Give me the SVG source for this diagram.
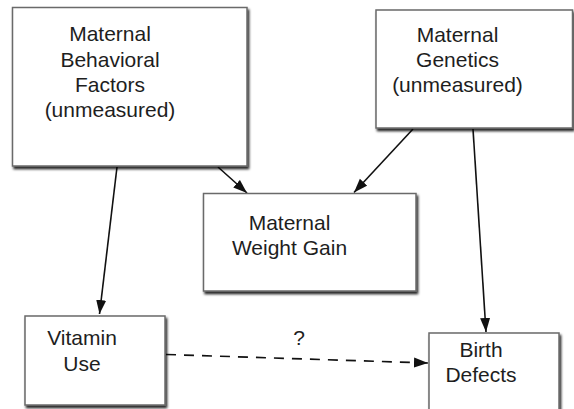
<svg xmlns="http://www.w3.org/2000/svg" width="574" height="409" viewBox="0 0 574 409">
  <defs>
    <filter id="shadow" x="-10%" y="-10%" width="125%" height="130%">
      <feDropShadow dx="1.5" dy="2.5" stdDeviation="1.3" flood-color="#000" flood-opacity="0.85"/>
    </filter>
    <marker id="arrow" markerUnits="userSpaceOnUse" markerWidth="16" markerHeight="12" refX="14" refY="5.5" orient="auto">
      <path d="M0,0.5 L14,5.5 L0,10.5 z" fill="#111"/>
    </marker>
  </defs>
  <style>
    .box { fill: #fff; stroke: #6a6a6a; stroke-width: 1.5; filter: url(#shadow); }
    .label { font-family: "Liberation Sans", Arial, sans-serif; font-size: 21px; fill: #1e1e1e; text-anchor: middle; }
    .edge { stroke: #111; stroke-width: 1.6; fill: none; marker-end: url(#arrow); }
    .dashed { stroke-dasharray: 10 8; }
  </style>
  <rect width="574" height="409" fill="#fff"/>

  <g id="connectors">
    <line class="edge" x1="117" y1="167" x2="99.5" y2="314"/>
    <line class="edge" x1="218" y1="167" x2="247" y2="193"/>
    <line class="edge" x1="413" y1="129" x2="354" y2="192.5"/>
    <line class="edge" x1="473" y1="129" x2="486" y2="332"/>
    <line class="edge dashed" x1="166" y1="354.5" x2="428" y2="363"/>
    <text class="label" x="299" y="345">?</text>
  </g>

  <g id="behavioral">
    <rect class="box" x="12.5" y="7.5" width="234.5" height="158.5"/>
    <text class="label" x="110" y="41">Maternal</text>
    <text class="label" x="110" y="66.5">Behavioral</text>
    <text class="label" x="110" y="92">Factors</text>
    <text class="label" x="110" y="117">(unmeasured)</text>
  </g>

  <g id="genetics">
    <rect class="box" x="376" y="10" width="196.5" height="118"/>
    <text class="label" x="457.5" y="41.5">Maternal</text>
    <text class="label" x="457.5" y="66.5">Genetics</text>
    <text class="label" x="457.5" y="92">(unmeasured)</text>
  </g>

  <g id="weight-gain">
    <rect class="box" x="203.5" y="193.5" width="212.5" height="97.5"/>
    <text class="label" x="289.5" y="230">Maternal</text>
    <text class="label" x="289.5" y="254.5">Weight Gain</text>
  </g>

  <g id="vitamin">
    <rect class="box" x="25" y="316" width="140" height="89"/>
    <text class="label" x="82" y="345">Vitamin</text>
    <text class="label" x="82" y="370.5">Use</text>
  </g>

  <g id="birth-defects">
    <rect class="box" x="429" y="333" width="130" height="82"/>
    <text class="label" x="481" y="357">Birth</text>
    <text class="label" x="481" y="382">Defects</text>
  </g>
</svg>
